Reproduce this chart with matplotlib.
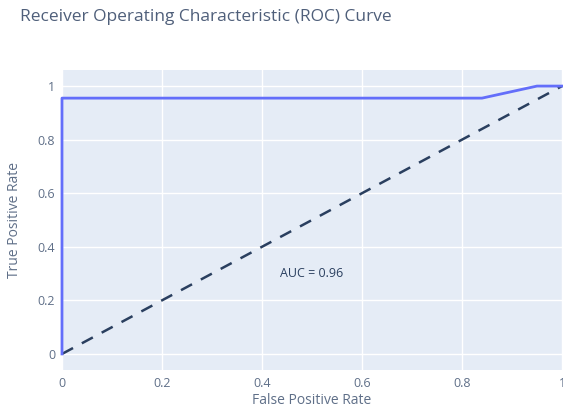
import numpy as np
import matplotlib.pyplot as plt
from matplotlib.ticker import FuncFormatter

plt.rcParams['font.family'] = ['Open Sans', 'DejaVu Sans']

# ROC curve points
fpr = [0.0, 0.0, 0.84, 0.95, 1.0]
tpr = [0.0, 0.955, 0.955, 1.0, 1.0]
diag = [0.0, 1.0]
auc = 0.96

ticks = [0, 0.2, 0.4, 0.6, 0.8, 1]

def fmt(v, pos):
	return "%g" % v

fig = plt.figure(figsize=(5.63, 4.09), dpi=100)
ax = fig.add_axes([62/563, 39/409, 501/563, 300/409])
ax.set_facecolor("#e5ecf6")
for s in ax.spines.values():
	s.set_visible(False)

ax.plot(diag, diag, color="#2a3f5f", lw=1.8, dashes=(5, 4), zorder=3)
ax.plot(fpr, tpr, color="#636efa", lw=2, zorder=4, clip_on=False)

ax.set_xlim(0, 1.002)
ax.set_ylim(-0.06, 1.06)
ax.set_xticks(ticks)
ax.set_yticks(ticks)
ax.xaxis.set_major_formatter(FuncFormatter(fmt))
ax.yaxis.set_major_formatter(FuncFormatter(fmt))
ax.grid(True, color="white", lw=1)
ax.set_axisbelow(True)
ax.tick_params(length=0, labelsize=9, colors="#5f6f88", pad=5)

fig.text(312/563, 1 - 401/409, "False Positive Rate", fontsize=10, color="#5f6f88",
	ha="center", va="center")
fig.text(15/563, 1 - 220/409, "True Positive Rate", fontsize=10, color="#5f6f88",
	ha="center", va="center", rotation=90)

ax.text(0.5, 0.3, "AUC = %.2f" % auc, fontsize=9, color="#2a3f5f", ha="center", va="center")

fig.text(20/563, 1 - 17/409, "Receiver Operating Characteristic (ROC) Curve",
	fontsize=12.5, color="#4f5f7a", ha="left", va="center")

fig.savefig("out.png", dpi=100, facecolor="white")
